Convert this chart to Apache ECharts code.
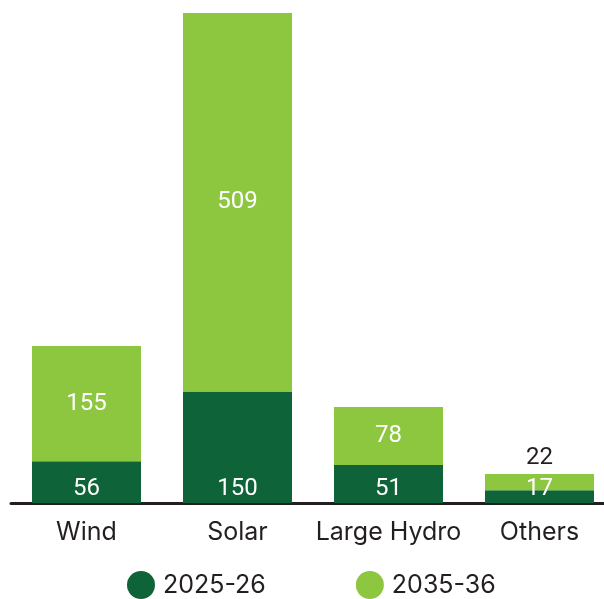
<!DOCTYPE html>
<html>
<head>
<meta charset="utf-8">
<script src="https://cdn.jsdelivr.net/npm/echarts@6/dist/echarts.min.js"></script>
<style>
html,body{margin:0;padding:0;background:#fff;}
#chart{width:604px;height:599px;}
</style>
</head>
<body>
<div id="chart"></div>
<script>
const categories = ['Wind', 'Solar', 'Large Hydro', 'Others'];
const seriesNames = ['2025-26', '2035-36'];
const values2025 = [56, 150, 51, 17];
const values2035 = [155, 509, 78, 22];

const darkGreen = '#0f6338';
const lightGreen = '#8dc63f';
const textColor = '#231f20';
const labelFont = 'Roboto, "Noto Sans", sans-serif';
const axisFont = 'Inter, Roboto, sans-serif';

const totals = values2025.map((v, i) => v + values2035[i]);
const yMax = Math.max.apply(null, totals);

// small segments: move the upper label above the bar so labels do not collide
const smallLimit = 40;
const data2035 = values2035.map((v, i) => {
  if (totals[i] < smallLimit) {
    return {value: v, label: {position: 'top', color: textColor, distance: 4}};
  }
  return v;
});

const chart = echarts.init(document.getElementById('chart'), null, {renderer: 'canvas'});
chart.setOption({
  animation: false,
  backgroundColor: '#fff',
  grid: {left: 11, right: -11, top: 13, bottom: 96, containLabel: false, outerBoundsMode: 'none'},
  legend: {
    data: seriesNames,
    top: 571,
    left: 127,
    padding: 0,
    icon: 'circle',
    itemWidth: 28,
    itemHeight: 28,
    itemGap: 90,
    textStyle: {fontSize: 25, color: textColor, fontFamily: axisFont, padding: [0, 0, 0, 3]}
  },
  xAxis: {
    type: 'category',
    data: categories,
    axisLine: {lineStyle: {color: textColor, width: 3}},
    axisTick: {show: false},
    axisLabel: {interval: 0, fontSize: 25, color: textColor, margin: 17, fontFamily: axisFont}
  },
  yAxis: {
    type: 'value',
    min: 0,
    max: yMax,
    show: false,
    splitLine: {show: false}
  },
  series: [
    {
      name: seriesNames[0],
      type: 'bar',
      stack: 'total',
      data: values2025,
      barWidth: 109,
      itemStyle: {color: darkGreen},
      label: {show: true, position: 'insideBottom', distance: 2, color: '#fff', fontSize: 24, fontFamily: labelFont}
    },
    {
      name: seriesNames[1],
      type: 'bar',
      stack: 'total',
      data: data2035,
      barWidth: 109,
      itemStyle: {color: lightGreen},
      label: {show: true, position: 'inside', color: '#fff', fontSize: 24, fontFamily: labelFont}
    }
  ]
});
</script>
</body>
</html>
